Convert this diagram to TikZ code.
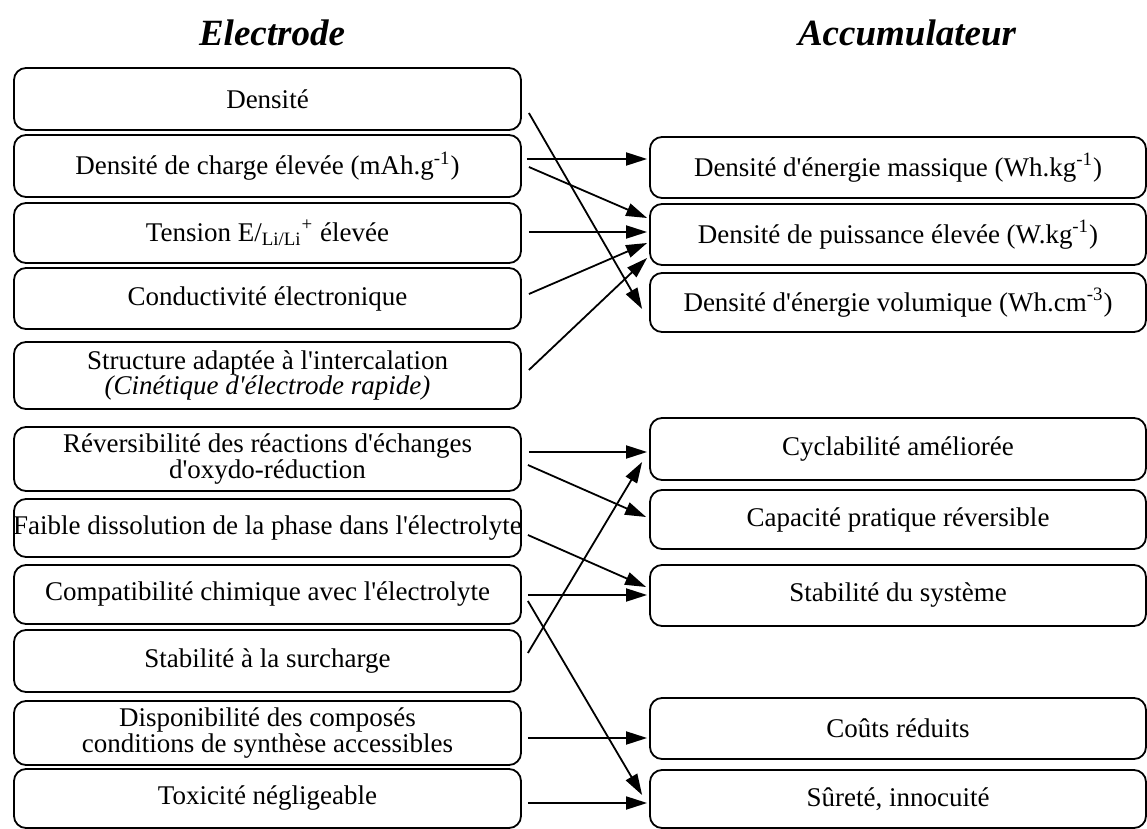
\documentclass[tikz,border=0pt]{standalone}
\usepackage{fontspec}
\setmainfont{Liberation Serif}[Ligatures=TeXOff]
\usetikzlibrary{arrows.meta}
\begin{document}
\begin{tikzpicture}[x=0.5pt,y=-0.5pt,
  box/.style={draw, line width=0.9pt, rounded corners=6pt, inner sep=0pt, align=center,
    font=\fontsize{13.5}{12.8}\selectfont},
  lbox/.style={box, minimum width=253.5pt},
  rbox/.style={box, minimum width=248pt},
  ttl/.style={anchor=base, font=\fontsize{18.5}{20}\selectfont\bfseries\itshape},
  arr/.style={-{Triangle[length=10.5pt,width=6.5pt]}, line width=0.9pt}]
\useasboundingbox (0,0) rectangle (1147,829);
% titles
\node[ttl] (tE) at (272,46) {Electrode};
\node[ttl] (tA) at (907,46) {Accumulateur};
% left column
\node[lbox, minimum height=31pt]   (L1)  at (267.5,99)    {Densité};
\node[lbox, minimum height=31pt]   (L2)  at (267.5,166)   {Densité de charge élevée (mAh.g\textsuperscript{-1})};
\node[lbox, minimum height=30pt]   (L3)  at (267.5,233)   {Tension E/\textsubscript{Li/Li}\textsuperscript{+} élevée};
\node[lbox, minimum height=30.5pt] (L4)  at (267.5,298.5) {Conductivité électronique};
\node[lbox, minimum height=33.5pt] (L5)  at (267.5,375.5) {Structure adaptée à l'intercalation\\\textit{(Cinétique d'électrode rapide)}};
\node[lbox, minimum height=32pt]   (L6)  at (267.5,459)   {Réversibilité des réactions d'échanges\\d'oxydo-réduction};
\node[lbox, minimum height=29pt]   (L7)  at (267.5,528)   {\makebox[0pt]{Faible dissolution de la phase dans l'électrolyte}};
\node[lbox, minimum height=29.5pt] (L8)  at (267.5,594.5) {Compatibilité chimique avec l'électrolyte};
\node[lbox, minimum height=31pt]   (L9)  at (267.5,661)   {Stabilité à la surcharge};
\node[lbox, minimum height=32pt]   (L10) at (267.5,733)   {Disponibilité des composés\\conditions de synthèse accessibles};
\node[lbox, minimum height=29.5pt] (L11) at (267.5,798.5) {Toxicité négligeable};
% right column
\node[rbox, minimum height=30.5pt] (A) at (898,167.5) {Densité d'énergie massique (Wh.kg\textsuperscript{-1})};
\node[rbox, minimum height=30.5pt] (B) at (898,234.5) {Densité de puissance élevée (W.kg\textsuperscript{-1})};
\node[rbox, minimum height=29.5pt] (C) at (898,302.5) {Densité d'énergie volumique (Wh.cm\textsuperscript{-3})};
\node[rbox, minimum height=31pt]   (D) at (898,449)   {Cyclabilité améliorée};
\node[rbox, minimum height=29.5pt] (E) at (898,519.5) {Capacité pratique réversible};
\node[rbox, minimum height=30.5pt] (F) at (898,595.5) {Stabilité du système};
\node[rbox, minimum height=30.5pt] (G) at (898,728.5) {Coûts réduits};
\node[rbox, minimum height=29pt]   (H) at (898,799)   {Sûreté, innocuité};
% connectors
\draw[arr] ([shift={(7,14)}]L1.east) -- ([shift={(-7,6.5)}]C.west);
\draw[arr] ([shift={(5,-7)}]L2.east) -- ([shift={(-2,-8.5)}]A.west);
\draw[arr] ([shift={(7,1)}]L2.east) -- ([shift={(-2,-16.5)}]B.west);
\draw[arr] ([shift={(7,-1)}]L3.east) -- ([shift={(-2,-2.5)}]B.west);
\draw[arr] ([shift={(7,-4.5)}]L4.east) -- ([shift={(-2,8.5)}]B.west);
\draw[arr] ([shift={(7,-5.5)}]L5.east) -- ([shift={(-2,23.5)}]B.west);
\draw[arr] ([shift={(7,-7)}]L6.east) -- ([shift={(-2,3)}]D.west);
\draw[arr] ([shift={(6,6)}]L6.east) -- ([shift={(-3,-2.5)}]E.west);
\draw[arr] ([shift={(6,-8)}]L9.east) -- ([shift={(-7,13)}]D.west);
\draw[arr] ([shift={(6,7)}]L7.east) -- ([shift={(-3,-8.5)}]F.west);
\draw[arr] ([shift={(6,0.5)}]L8.east) -- ([shift={(-2,-0.5)}]F.west);
\draw[arr] ([shift={(6,6.5)}]L8.east) -- ([shift={(-7,-4)}]H.west);
\draw[arr] ([shift={(6,5)}]L10.east) -- ([shift={(-2,9.5)}]G.west);
\draw[arr] ([shift={(6,4.5)}]L11.east) -- ([shift={(-2,4)}]H.west);
\end{tikzpicture}
\end{document}
